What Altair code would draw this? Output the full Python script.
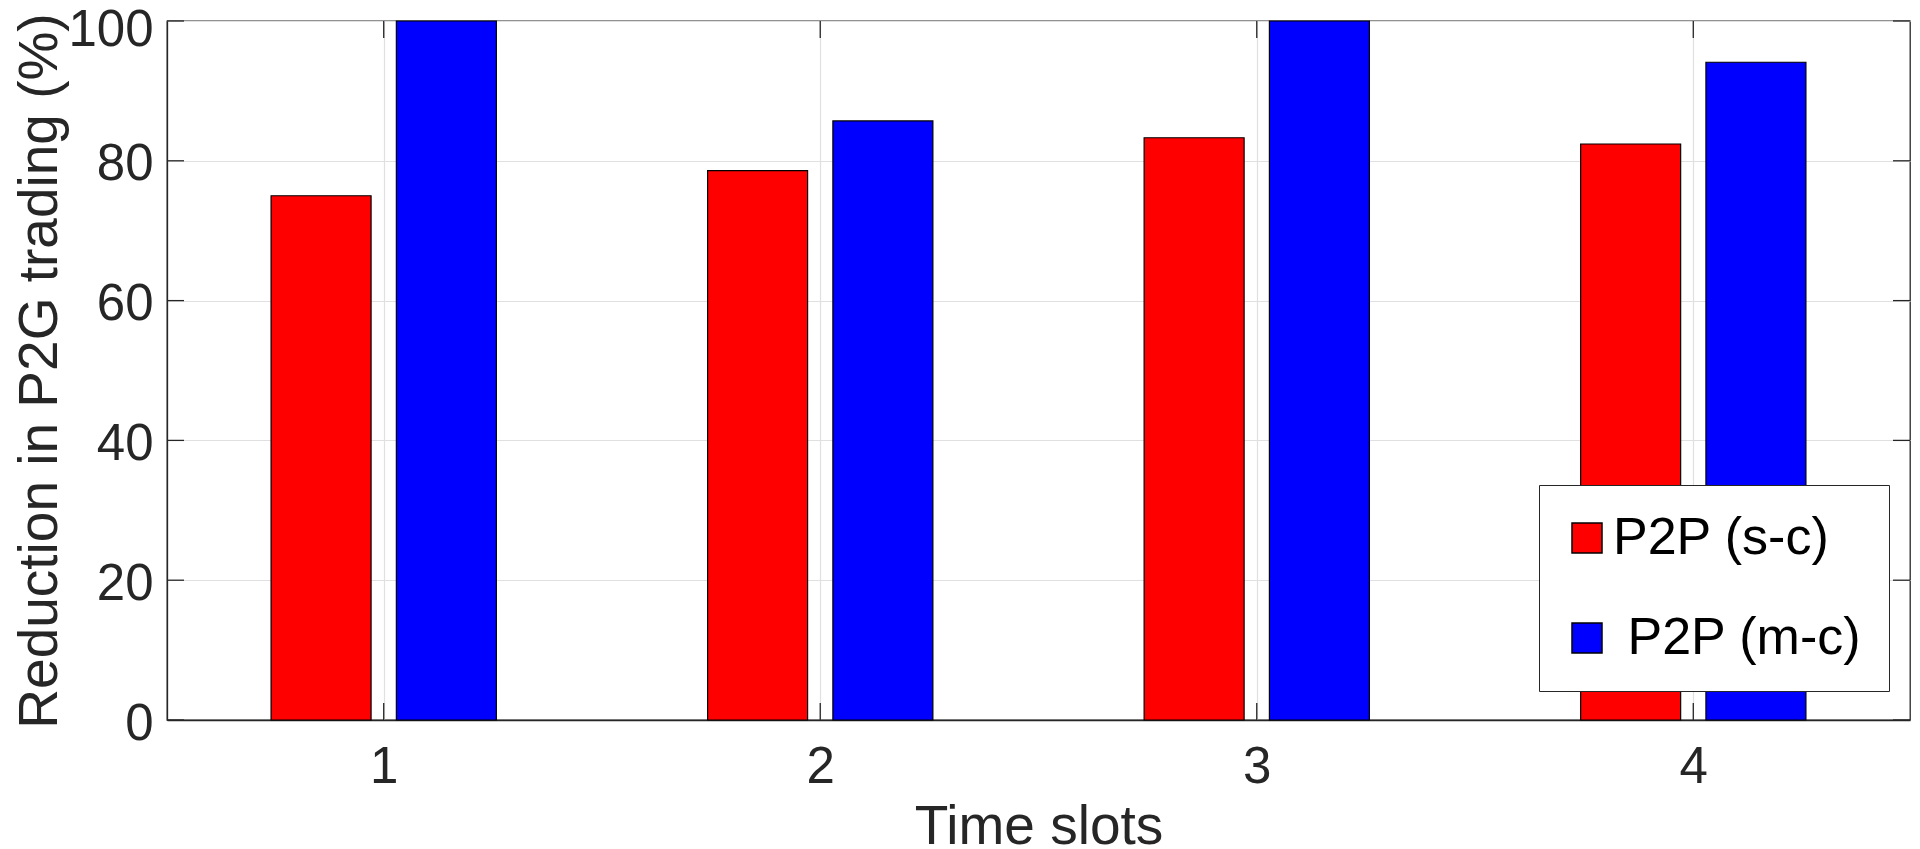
import altair as alt
import pandas as pd

# ---- data ----
slots = [1, 2, 3, 4]
series_names = ["P2P (s-c)", "\u200b\u00a0P2P (m-c)"]
sc_values = [75.0, 78.6, 83.3, 82.4]
mc_values = [100.0, 85.7, 100.0, 94.1]
y_ticks = [0, 20, 40, 60, 80, 100]
x_ticks = [1, 2, 3, 4]
colors = ["#ff0000", "#0000ff"]

# ---- layout / style constants ----
W, H = 1743, 699
TICK_LEN = 17
GROUP_SHIFT = 0.1435  # bar offset inside a group (x units)
BAR_PX = 100
FONT = "Liberation Sans"
DARK = "#262626"

rows = []
for s, a, b in zip(slots, sc_values, mc_values):
    rows.append({"slot": s, "series": series_names[0], "value": a, "shift": -GROUP_SHIFT})
    rows.append({"slot": s, "series": series_names[1], "value": b, "shift": GROUP_SHIFT})
df = pd.DataFrame(rows)

xscale = alt.Scale(domain=[0.515, 4.485], nice=False, zero=False)
yscale = alt.Scale(domain=[0, 100], nice=False)

x_axis = alt.Axis(
    values=x_ticks, format="d", grid=True, ticks=False,
    labelPadding=22, labelFontSize=51,
    title="Time slots", titleFontSize=55,
    titleX=W / 2, titleY=123, titleBaseline="alphabetic", titleAlign="center",
)
y_axis = alt.Axis(
    values=y_ticks, grid=True, ticks=False,
    labelPadding=14, labelFontSize=51, labelBaseline="alphabetic",
    labelOffset={"condition": {"test": "datum.value == 100", "value": 24}, "value": 19},
    title="Reduction in P2G trading (%)", titleFontSize=55,
    titleX=-111, titleY=H / 2, titleBaseline="alphabetic", titleAlign="center", titleAngle=270,
)

legend = alt.Legend(
    title=None, orient="none", legendX=1372, legendY=464,
    fillColor="white", strokeColor=DARK, padding=27,
    symbolType="square", symbolSize=900, symbolOffset=-5,
    symbolStrokeColor="black", symbolStrokeWidth=1.5, symbolOpacity=1,
    labelFont=FONT, labelFontSize=52, labelColor="black", labelOffset=0,
    labelLimit=600, rowPadding=48,
)

bars = alt.Chart(df).transform_calculate(
    xpos="datum.slot + datum.shift"
).mark_bar(size=BAR_PX, stroke="black", strokeWidth=1.2, opacity=1).encode(
    x=alt.X("xpos:Q", scale=xscale, axis=x_axis),
    y=alt.Y("value:Q", scale=yscale, axis=y_axis),
    color=alt.Color("series:N", scale=alt.Scale(domain=series_names, range=colors), legend=legend),
)

yt = pd.DataFrame({"value": y_ticks})
xt = pd.DataFrame({"xpos": x_ticks})

rule_style = dict(color=DARK, strokeWidth=1.3)

ticks_left = alt.Chart(yt).mark_rule(**rule_style).encode(
    y=alt.Y("value:Q", scale=yscale), x=alt.value(0), x2=alt.value(TICK_LEN))
ticks_right = alt.Chart(yt).mark_rule(**rule_style).encode(
    y=alt.Y("value:Q", scale=yscale), x=alt.value(W - TICK_LEN), x2=alt.value(W))
ticks_bottom = alt.Chart(xt).mark_rule(**rule_style).encode(
    x=alt.X("xpos:Q", scale=xscale), y=alt.value(H), y2=alt.value(H - TICK_LEN))
ticks_top = alt.Chart(xt).mark_rule(**rule_style).encode(
    x=alt.X("xpos:Q", scale=xscale), y=alt.value(0), y2=alt.value(TICK_LEN))

chart = alt.layer(bars, ticks_left, ticks_right, ticks_bottom, ticks_top).properties(
    width=W, height=H,
    autosize=alt.AutoSizeParams(type="none"),
    padding={"left": 159, "top": 13, "right": 2, "bottom": 128},
    background="white",
).configure_view(
    stroke=DARK, strokeWidth=1.3
).configure_axis(
    domainColor=DARK, domainWidth=1.3,
    labelFont=FONT, titleFont=FONT, labelColor=DARK, titleColor=DARK,
    titleFontWeight="normal", gridColor="#e0e0e0", gridWidth=1.2,
)

chart.save("out.html", embed_options={"renderer": "svg", "actions": False})
